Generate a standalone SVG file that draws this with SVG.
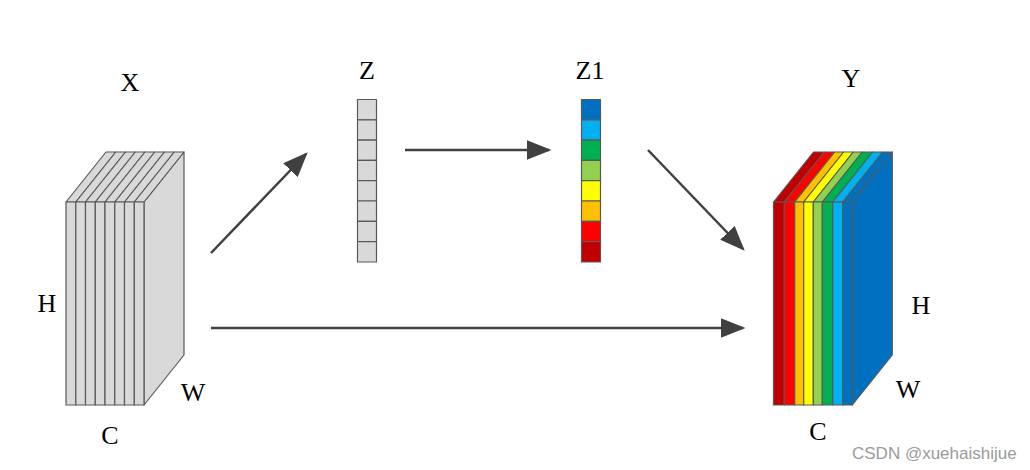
<svg xmlns="http://www.w3.org/2000/svg" width="1030" height="470" viewBox="0 0 1030 470">
<style>
.s{stroke:#595959;stroke-width:1.2;stroke-linejoin:round}
.g{fill:#d9d9d9}
.t{font-family:"Liberation Serif",serif;font-size:26px;fill:#000}
.a{stroke:#404040;stroke-width:2.5;fill:none}
.wm{font-family:"Liberation Sans",Arial,sans-serif;font-size:17px;fill:#9a9a9a}
</style>
<defs>
<marker id="ah" markerWidth="10" markerHeight="8" refX="9" refY="4" orient="auto" markerUnits="strokeWidth">
<path d="M0,0 L10,4 L0,8 Z" fill="#404040"/>
</marker>
</defs>
<rect width="1030" height="470" fill="#fff"/>

<g id="X">
<polygon class="s g" points="144,202 184,152 184,355 144,405"/>
<g class="s g">
<polygon points="66,202 106,152 115.8,152 75.8,202"/>
<polygon points="75.8,202 115.8,152 125.5,152 85.5,202"/>
<polygon points="85.5,202 125.5,152 135.3,152 95.3,202"/>
<polygon points="95.3,202 135.3,152 145,152 105,202"/>
<polygon points="105,202 145,152 154.8,152 114.8,202"/>
<polygon points="114.8,202 154.8,152 164.5,152 124.5,202"/>
<polygon points="124.5,202 164.5,152 174.3,152 134.3,202"/>
<polygon points="134.3,202 174.3,152 184,152 144,202"/>
<rect x="66" y="202" width="9.8" height="203"/>
<rect x="75.8" y="202" width="9.7" height="203"/>
<rect x="85.5" y="202" width="9.8" height="203"/>
<rect x="95.3" y="202" width="9.7" height="203"/>
<rect x="105" y="202" width="9.8" height="203"/>
<rect x="114.8" y="202" width="9.7" height="203"/>
<rect x="124.5" y="202" width="9.8" height="203"/>
<rect x="134.3" y="202" width="9.7" height="203"/>
</g>
<text class="t" x="130" y="91" text-anchor="middle">X</text>
<text class="t" x="47" y="312" text-anchor="middle">H</text>
<text class="t" x="193" y="401" text-anchor="middle">W</text>
<text class="t" x="110" y="444" text-anchor="middle">C</text>
</g>

<g id="Z">
<g class="s g">
<rect x="357.5" y="99.5" width="19" height="20.3"/>
<rect x="357.5" y="119.8" width="19" height="20.3"/>
<rect x="357.5" y="140.1" width="19" height="20.3"/>
<rect x="357.5" y="160.4" width="19" height="20.3"/>
<rect x="357.5" y="180.7" width="19" height="20.3"/>
<rect x="357.5" y="201" width="19" height="20.3"/>
<rect x="357.5" y="221.3" width="19" height="20.3"/>
<rect x="357.5" y="241.6" width="19" height="20.4"/>
</g>
<text class="t" x="367" y="79" text-anchor="middle">Z</text>
</g>

<g id="Z1">
<g class="s">
<rect x="581.5" y="99.5" width="19" height="20.3" fill="#0070c0"/>
<rect x="581.5" y="119.8" width="19" height="20.3" fill="#00b0f0"/>
<rect x="581.5" y="140.1" width="19" height="20.3" fill="#00b050"/>
<rect x="581.5" y="160.4" width="19" height="20.3" fill="#92d050"/>
<rect x="581.5" y="180.7" width="19" height="20.3" fill="#ffff00"/>
<rect x="581.5" y="201" width="19" height="20.3" fill="#ffc000"/>
<rect x="581.5" y="221.3" width="19" height="20.3" fill="#ff0000"/>
<rect x="581.5" y="241.6" width="19" height="20.4" fill="#c00000"/>
</g>
<text class="t" x="590" y="79" text-anchor="middle">Z1</text>
</g>

<g id="Y">
<polygon class="s" fill="#0070c0" points="852.3,202 892.3,152 892.3,355 852.3,405"/>
<g class="s">
<polygon fill="#c00000" points="773.5,202 813.5,152 824.3,152 784.3,202"/>
<polygon fill="#ff0000" points="784.3,202 824.3,152 834.7,152 794.7,202"/>
<polygon fill="#ffc000" points="794.7,202 834.7,152 843.7,152 803.7,202"/>
<polygon fill="#ffff00" points="803.7,202 843.7,152 853.3,152 813.3,202"/>
<polygon fill="#92d050" points="813.3,202 853.3,152 862.3,152 822.3,202"/>
<polygon fill="#00b050" points="822.3,202 862.3,152 872.7,152 832.7,202"/>
<polygon fill="#00b0f0" points="832.7,202 872.7,152 882.7,152 842.7,202"/>
<polygon fill="#0070c0" points="842.7,202 882.7,152 892.3,152 852.3,202"/>
<rect fill="#c00000" x="773.5" y="202" width="10.8" height="203"/>
<rect fill="#ff0000" x="784.3" y="202" width="10.4" height="203"/>
<rect fill="#ffc000" x="794.7" y="202" width="9" height="203"/>
<rect fill="#ffff00" x="803.7" y="202" width="9.6" height="203"/>
<rect fill="#92d050" x="813.3" y="202" width="9" height="203"/>
<rect fill="#00b050" x="822.3" y="202" width="10.4" height="203"/>
<rect fill="#00b0f0" x="832.7" y="202" width="10" height="203"/>
<rect fill="#0070c0" x="842.7" y="202" width="9.6" height="203"/>
</g>
<text class="t" x="851" y="87" text-anchor="middle">Y</text>
<text class="t" x="921" y="314" text-anchor="middle">H</text>
<text class="t" x="908" y="398" text-anchor="middle">W</text>
<text class="t" x="818" y="440" text-anchor="middle">C</text>
</g>

<g id="connectors">
<line class="a" x1="211" y1="253" x2="306" y2="154" marker-end="url(#ah)"/>
<line class="a" x1="405" y1="150" x2="549" y2="150" marker-end="url(#ah)"/>
<line class="a" x1="648" y1="150" x2="743" y2="249" marker-end="url(#ah)"/>
<line class="a" x1="211" y1="328" x2="743" y2="328" marker-end="url(#ah)"/>
</g>

<text class="wm" x="852" y="459">CSDN @xuehaishijue</text>
</svg>
